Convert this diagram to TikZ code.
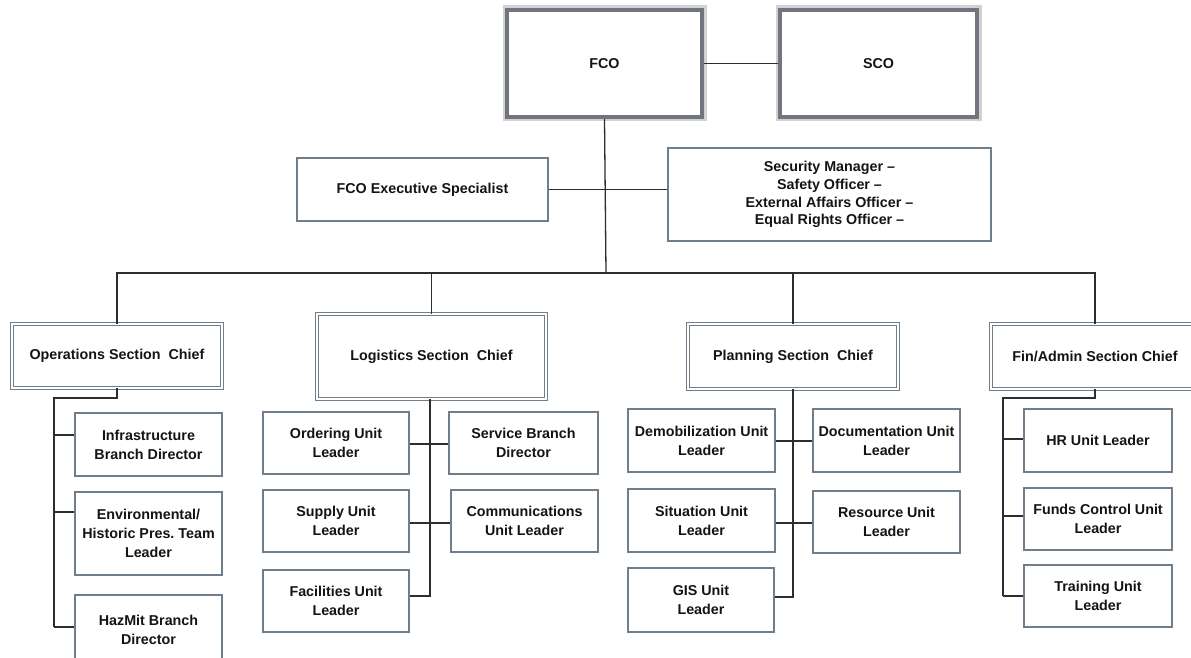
\documentclass[tikz,border=0pt]{standalone}
\usepackage{fontspec}
\setmainfont{Liberation Sans}
\usetikzlibrary{calc}
\definecolor{boxc}{RGB}{112,126,140}
\definecolor{linec}{RGB}{45,45,45}
\definecolor{framec}{RGB}{112,117,128}
\begin{document}
\begin{tikzpicture}[x=1pt,y=-1pt,
  lbl/.style={font=\bfseries\fontsize{14.3}{19}\selectfont, text=black!92, align=center, inner sep=1pt},
  ubox/.style={lbl, draw=boxc, line width=1.2pt, fill=white},
  chief/.style={lbl, draw=boxc, line width=0.9pt, double=white, double distance=2pt, fill=white},
  topbox/.style={lbl, draw=framec, line width=4.5pt, fill=white,
     preaction={draw=black!18, line width=9pt}},
  conn/.style={draw=linec, line width=1.3pt}]
\useasboundingbox (0,0) rectangle (1191,658);
\fill[white] (0,0) rectangle (1191,658);
\begin{scope}
\clip (0,0) rectangle (1191,658);
% top
\node[topbox, minimum width=195, minimum height=107] (fco) at (604.5,63.5) {FCO};
\node[topbox, minimum width=197, minimum height=107] (sco) at (878.5,63.5) {SCO};
\draw[conn] (fco.east) -- (sco.west);
% staff
\node[ubox, minimum width=251, minimum height=63] (exec) at (422.5,189.5) {FCO Executive Specialist};
\node[ubox, minimum width=323, minimum height=93, font=\bfseries\fontsize{14.3}{17.7}\selectfont] (sec) at (829.5,194.5) {Security Manager --\\Safety Officer --\\External Affairs Officer --\\Equal Rights Officer --};
\draw[conn] (exec.east) -- (exec.east -| sec.west);
% section chiefs
\node[chief, minimum width=210, minimum height=64] (ops) at (117,356) {Operations Section\ \ Chief};
\node[chief, minimum width=229, minimum height=85] (log) at (431.5,356.5) {Logistics Section\ \ Chief};
\node[chief, minimum width=210, minimum height=65] (plan) at (793,356.5) {Planning Section\ \ Chief};
\node[chief, minimum width=208, minimum height=65] (fin) at (1095,356.5) {Fin/Admin Section Chief};
\coordinate (bus) at (606,273);
\draw[conn] (fco.south) -- (bus);
\draw[conn] (ops.north) |- (bus) -| (fin.north);
\draw[conn] (log.north) -- (log.north |- bus);
\draw[conn] (plan.north) -- (plan.north |- bus);
% operations branch
\node[ubox, minimum width=147, minimum height=63] (infra) at (148.5,444.5) {Infrastructure\\Branch Director};
\node[ubox, minimum width=147, minimum height=83] (env) at (148.5,533.5) {Environmental/\\Historic Pres.\ Team\\Leader};
\node[ubox, minimum width=147, minimum height=70] (haz) at (148.5,630) {HazMit Branch\\Director};
\coordinate (o0) at (54,398);
\coordinate (o1) at (54,435);
\coordinate (o2) at (54,512);
\coordinate (o3) at (54,627);
\draw[conn] (ops.south) |- (o0) -- (o3);
\draw[conn] (o1) -- (o1 -| infra.west);
\draw[conn] (o2) -- (o2 -| env.west);
\draw[conn] (o3) -- (o3 -| haz.west);
% logistics branch
\node[ubox, minimum width=146, minimum height=62] (ord) at (336,443) {Ordering Unit\\Leader};
\node[ubox, minimum width=149, minimum height=62] (serv) at (523.5,443) {Service Branch\\Director};
\node[ubox, minimum width=146, minimum height=62] (sup) at (336,521) {Supply Unit\\Leader};
\node[ubox, minimum width=147, minimum height=62] (comm) at (524.5,521) {Communications\\Unit Leader};
\node[ubox, minimum width=146, minimum height=62] (fac) at (336,601) {Facilities Unit\\Leader};
\coordinate (l1) at (430,444);
\coordinate (l2) at (430,523);
\coordinate (l3) at (430,596);
\draw[conn] (log.south -| l1) -- (l3) -- (l3 -| fac.east);
\draw[conn] (l1 -| ord.east) -- (l1 -| serv.west);
\draw[conn] (l2 -| sup.east) -- (l2 -| comm.west);
% planning branch
\node[ubox, minimum width=147, minimum height=63] (demob) at (701.5,440.5) {Demobilization Unit\\Leader};
\node[ubox, minimum width=147, minimum height=63] (doc) at (886.5,440.5) {Documentation Unit\\Leader};
\node[ubox, minimum width=147, minimum height=63] (sit) at (701.5,520.5) {Situation Unit\\Leader};
\node[ubox, minimum width=147, minimum height=62] (res) at (886.5,522) {Resource Unit\\Leader};
\node[ubox, minimum width=146, minimum height=64] (gis) at (701,600) {GIS Unit\\Leader};
\coordinate (p1) at (793,441);
\coordinate (p2) at (793,523);
\coordinate (p3) at (793,597);
\draw[conn] (plan.south) -- (p3) -- (p3 -| gis.east);
\draw[conn] (p1 -| demob.east) -- (p1 -| doc.west);
\draw[conn] (p2 -| sit.east) -- (p2 -| res.west);
% fin/admin branch
\node[ubox, minimum width=148, minimum height=63] (hr) at (1098,440.5) {HR Unit Leader};
\node[ubox, minimum width=148, minimum height=62] (funds) at (1098,519) {Funds Control Unit\\Leader};
\node[ubox, minimum width=148, minimum height=62] (train) at (1098,596) {Training Unit\\Leader};
\coordinate (f0) at (1003,398);
\coordinate (f1) at (1003,439);
\coordinate (f2) at (1003,516);
\coordinate (f3) at (1003,596);
\draw[conn] (fin.south) |- (f0) -- (f3);
\draw[conn] (f1) -- (f1 -| hr.west);
\draw[conn] (f2) -- (f2 -| funds.west);
\draw[conn] (f3) -- (f3 -| train.west);
\end{scope}
\end{tikzpicture}
\end{document}
